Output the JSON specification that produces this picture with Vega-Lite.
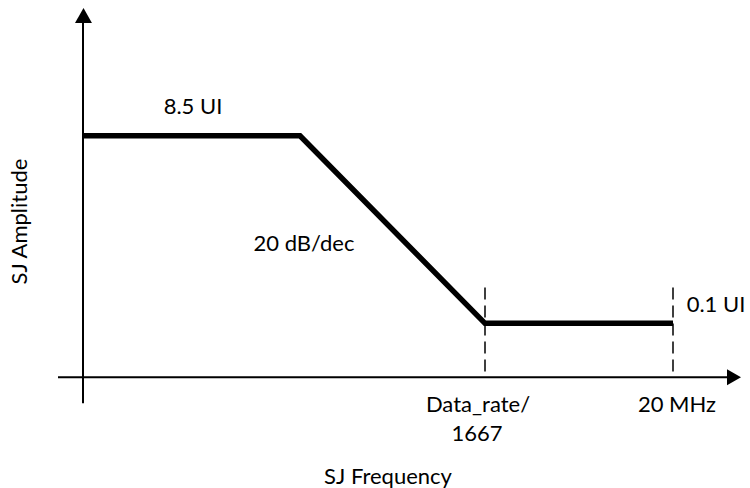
{
  "$schema": "https://vega.github.io/schema/vega-lite/v6.json",
  "width": 750,
  "height": 488,
  "padding": 0,
  "autosize": {"type": "fit", "contains": "padding"},
  "config": {"view": {"stroke": null}},
  "background": "white",
  "datasets": {
    "axes": [
      {"x": 83, "y": 84, "x2": 83, "y2": 466},
      {"x": 58, "y": 110, "x2": 728, "y2": 110}
    ],
    "dashes": [
      {"x": 485, "y": 200, "x2": 485, "y2": 110},
      {"x": 673, "y": 200, "x2": 673, "y2": 110}
    ],
    "mask": [
      {"x": 83, "y": 352},
      {"x": 300, "y": 352},
      {"x": 485, "y": 164},
      {"x": 673, "y": 164}
    ],
    "upArrow": [{"x": 83.5, "y": 472.5}],
    "rightArrow": [{"x": 734, "y": 110}],
    "labels": [
      {"x": 193, "y": 381, "text": "8.5 UI"},
      {"x": 304, "y": 244, "text": "20 dB/dec"},
      {"x": 716, "y": 182, "text": "0.1 UI"},
      {"x": 478, "y": 82, "text": "Data_rate/"},
      {"x": 477, "y": 53, "text": "1667"},
      {"x": 677, "y": 82, "text": "20 MHz"},
      {"x": 388, "y": 10, "text": "SJ Frequency"}
    ],
    "ylabel": [{"x": 20, "y": 266, "text": "SJ Amplitude"}]
  },
  "encoding": {
    "x": {"field": "x", "type": "quantitative", "scale": {"domain": [0, 750], "nice": false, "zero": false}, "axis": null},
    "y": {"field": "y", "type": "quantitative", "scale": {"domain": [0, 488], "nice": false, "zero": false}, "axis": null}
  },
  "layer": [
    {
      "data": {"name": "axes"},
      "mark": {"type": "rule", "color": "black", "strokeWidth": 2},
      "encoding": {"x2": {"field": "x2"}, "y2": {"field": "y2"}}
    },
    {
      "data": {"name": "dashes"},
      "mark": {"type": "rule", "color": "black", "strokeWidth": 1.5, "strokeDash": [12, 6]},
      "encoding": {"x2": {"field": "x2"}, "y2": {"field": "y2"}}
    },
    {
      "data": {"name": "mask"},
      "mark": {"type": "line", "color": "black", "strokeWidth": 5.5, "strokeJoin": "miter", "strokeCap": "butt"},
      "encoding": {"order": {"field": "x", "type": "quantitative"}}
    },
    {
      "data": {"name": "upArrow"},
      "mark": {"type": "point", "filled": true, "color": "black", "opacity": 1, "size": 225, "shape": "M0,-1L1.13,1L-1.13,1Z"}
    },
    {
      "data": {"name": "rightArrow"},
      "mark": {"type": "point", "filled": true, "color": "black", "opacity": 1, "size": 196, "shape": "M1,0L-1,1.14L-1,-1.14Z"}
    },
    {
      "data": {"name": "labels"},
      "mark": {"type": "text", "font": "Lato", "fontSize": 22, "color": "black", "align": "center", "baseline": "middle"},
      "encoding": {"text": {"field": "text"}}
    },
    {
      "data": {"name": "ylabel"},
      "mark": {"type": "text", "font": "Lato", "fontSize": 22, "color": "black", "align": "center", "baseline": "middle", "angle": 270},
      "encoding": {"text": {"field": "text"}}
    }
  ]
}
